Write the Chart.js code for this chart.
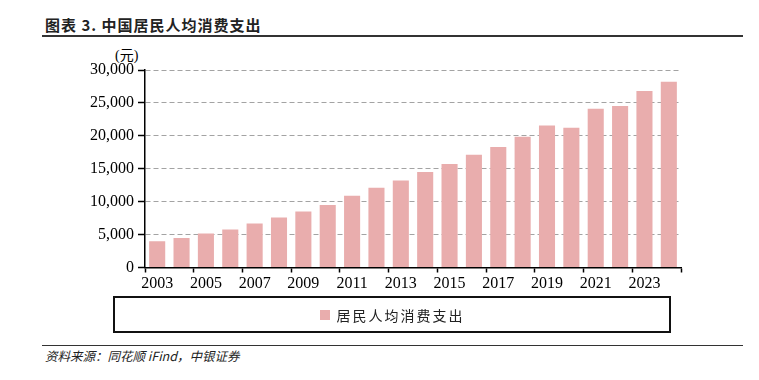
<!DOCTYPE html>
<html lang="zh">

<head>
    <meta charset="UTF-8">
    <title>中国居民人均消费支出</title>
    <script src="https://cdn.jsdelivr.net/npm/chart.js"></script>
    <style>
        body {
            margin: 0;
            width: 759px;
            height: 380px;
            background: #fff;
            position: relative;
            overflow: hidden;
            font-family: "Liberation Serif", "Noto Sans CJK SC", serif;
        }

        .title {
            position: absolute;
            left: 45px;
            top: 14px;
            font-family: "Noto Sans CJK SC", sans-serif;
            font-weight: bold;
            font-size: 15px;
            color: #222;
            letter-spacing: 1px;
        }

        .rule {
            position: absolute;
            left: 42px;
            width: 701px;
            background: #333;
        }

        .unit {
            position: absolute;
            left: 115px;
            top: 44px;
            font-size: 14px;
        }

        #chartBox {
            position: absolute;
            left: 0;
            top: 40px;
            width: 759px;
            height: 260px;
        }

        .legend {
            position: absolute;
            left: 113px;
            top: 296px;
            width: 554px;
            height: 33px;
            border: 2px solid #111;
            display: flex;
            align-items: center;
            justify-content: center;
            font-family: "Noto Sans CJK SC", sans-serif;
            font-size: 14px;
            letter-spacing: 2px;
            color: #222;
        }

        .legend span.sw {
            display: inline-block;
            width: 10px;
            height: 10px;
            margin-right: 7px;
        }

        .source {
            position: absolute;
            left: 45px;
            top: 346px;
            font-family: "Noto Sans CJK SC", sans-serif;
            font-style: italic;
            font-size: 12.5px;
            color: #222;
        }
    </style>
</head>

<body>
    <div class="title">图表 3. 中国居民人均消费支出</div>
    <div class="rule" style="top:35px;height:1.5px;"></div>
    <div class="unit">(元)</div>
    <div id="chartBox"><canvas id="myChart"></canvas></div>
    <div class="legend" id="legend"></div>
    <div class="rule" style="top:345px;height:1px;"></div>
    <div class="source">资料来源：同花顺 iFind，中银证券</div>

    <script>
        // 数据
        const years = ['2003', '2004', '2005', '2006', '2007', '2008', '2009', '2010', '2011', '2012', '2013',
            '2014', '2015', '2016', '2017', '2018', '2019', '2020', '2021', '2022', '2023', '2024'];
        const spending = [3990, 4500, 5180, 5760, 6680, 7600, 8490, 9500, 10900, 12100, 13220,
            14491, 15712, 17111, 18322, 19853, 21559, 21210, 24100, 24538, 26796, 28227];
        const yTicks = [0, 5000, 10000, 15000, 20000, 25000, 30000];
        const seriesName = '居民人均消费支出';
        const barColor = '#E9ADAD';

        const axisFont = { family: '"Liberation Serif", "Times New Roman", serif', size: 16 };

        const ctx = document.getElementById('myChart').getContext('2d');
        const myChart = new Chart(ctx, {
            type: 'bar',
            data: {
                labels: years,
                datasets: [{
                    label: seriesName,
                    data: spending,
                    backgroundColor: barColor,
                    borderWidth: 0,
                    categoryPercentage: 1,
                    barPercentage: 0.66
                }]
            },
            options: {
                responsive: true,
                maintainAspectRatio: false,
                animation: false,
                layout: { padding: { top: 30, right: 78, left: 0, bottom: 0 } },
                plugins: {
                    legend: { display: false },
                    tooltip: { enabled: false }
                },
                scales: {
                    x: {
                        offset: true,
                        grid: {
                            offset: true,
                            drawOnChartArea: false,
                            tickLength: 5,
                            tickWidth: 1.5,
                            // chỉ vẽ vạch ở mỗi 2 năm
                            tickColor: (c) => (c.index === undefined || c.index % 2 === 0) ? '#000' : 'rgba(0,0,0,0)'
                        },
                        border: { color: '#000', width: 1.5 },
                        ticks: {
                            color: '#000',
                            font: axisFont,
                            padding: 2,
                            autoSkip: false,
                            maxRotation: 0,
                            callback: function (val, i) { return i % 2 === 0 ? this.getLabelForValue(val) : ''; }
                        },
                        afterFit: (scale) => { scale.height = 32.5; }
                    },
                    y: {
                        min: 0,
                        max: 30000,
                        afterBuildTicks: (scale) => { scale.ticks = yTicks.map(v => ({ value: v })); },
                        grid: {
                            color: '#a3a3a3',
                            lineWidth: 1,
                            tickLength: 7,
                            tickColor: '#000',
                            tickWidth: 1.5
                        },
                        border: { color: '#000', width: 1.5, dash: [5, 3] },
                        ticks: {
                            color: '#000',
                            font: axisFont,
                            padding: 4,
                            callback: (v) => v.toLocaleString('en-US')
                        },
                        afterFit: (scale) => { scale.width = 145; }
                    }
                }
            }
        });

        // chú thích (legend) dạng HTML
        const legendEl = document.getElementById('legend');
        legendEl.innerHTML = '<span class="sw" style="background:' + barColor + '"></span>' + seriesName;
    </script>
</body>

</html>
